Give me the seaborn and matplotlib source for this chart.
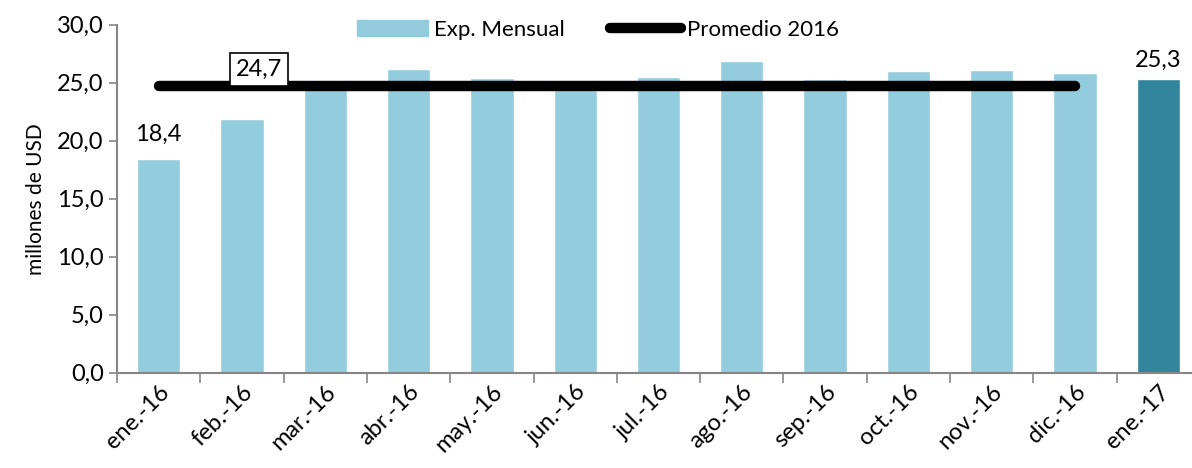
import pandas as pd
import matplotlib.pyplot as plt
import seaborn as sns
from matplotlib.patches import Patch
from matplotlib.lines import Line2D
from matplotlib.ticker import FuncFormatter, FixedLocator

# Exportaciones mensuales (millones de USD)
meses = ['ene.-16', 'feb.-16', 'mar.-16', 'abr.-16', 'may.-16', 'jun.-16',
         'jul.-16', 'ago.-16', 'sep.-16', 'oct.-16', 'nov.-16', 'dic.-16', 'ene.-17']
valores = [18.4, 21.9, 24.5, 26.2, 25.4, 24.4, 25.5, 26.9, 25.3, 26.0, 26.1, 25.8, 25.3]
meses_2016 = meses[:12]
promedio_2016 = 24.7

claro = '#93CDDD'
oscuro = '#31859C'
colores = [claro] * 12 + [oscuro]

sns.set_style('white')
plt.rcParams['font.family'] = ['Lato', 'DejaVu Sans']
plt.rcParams['text.color'] = 'black'
plt.rcParams['axes.labelcolor'] = 'black'
plt.rcParams['xtick.color'] = 'black'
plt.rcParams['ytick.color'] = 'black'

data = pd.DataFrame({'mes': meses, 'valor': valores})

fig = plt.figure(figsize=(11.92, 4.68), dpi=100)
ax = fig.add_axes([117 / 1192, 95.3 / 468, 1083 / 1192, 348 / 468])

sns.barplot(data=data, x='mes', y='valor', hue='mes', palette=colores,
            width=0.52, legend=False, ax=ax, saturation=1)

# linea promedio 2016
ax.plot([0, len(meses_2016) - 1], [promedio_2016, promedio_2016], color='black',
        lw=7.5, solid_capstyle='round', zorder=3)

ax.set_ylim(0, 30)
ax.set_xlim(-0.5, len(meses) - 0.5)
ax.set_yticks([0, 5, 10, 15, 20, 25, 30])
ax.yaxis.set_major_formatter(FuncFormatter(lambda v, p: f'{v:.1f}'.replace('.', ',')))
ax.set_ylabel('millones de USD', fontsize=15, labelpad=8)
ax.set_xlabel('')

ax.tick_params(axis='y', labelsize=17, length=6, width=1.2, color='#868686', direction='out', left=True)
ax.tick_params(axis='x', which='major', labelsize=17, length=0, pad=6)
ax.xaxis.set_minor_locator(FixedLocator([i - 0.5 for i in range(len(meses) + 1)]))
ax.tick_params(axis='x', which='minor', length=7, width=1.2, color='#868686', direction='out', bottom=True)
plt.setp(ax.get_xticklabels(), rotation=45, ha='right', rotation_mode='anchor')

for s in ['top', 'right']:
    ax.spines[s].set_visible(False)
for s in ['left', 'bottom']:
    ax.spines[s].set_color('#868686')
    ax.spines[s].set_linewidth(1.5)

# etiquetas de datos
ax.text(0, valores[0] + 1.2, '18,4', ha='center', va='bottom', fontsize=17)
ax.text(12, valores[12] + 0.7, '25,3', ha='center', va='bottom', fontsize=17)
ax.text(1.2, promedio_2016 + 0.55, '24,7', ha='center', va='bottom', fontsize=17,
        bbox=dict(boxstyle='square,pad=0.25', fc='white', ec='black', lw=1.2), zorder=4)

handles = [Patch(color=claro, label='Exp. Mensual'),
           Line2D([0], [0], color='black', lw=7.5, solid_capstyle='round', label='Promedio 2016')]
fig.legend(handles=handles, loc='center', bbox_to_anchor=(598 / 1192, 1 - 30 / 468), ncol=2,
           frameon=False, fontsize=16, handlelength=3.2, handletextpad=0.3, columnspacing=2.0)

plt.savefig('out.png', dpi=100)
